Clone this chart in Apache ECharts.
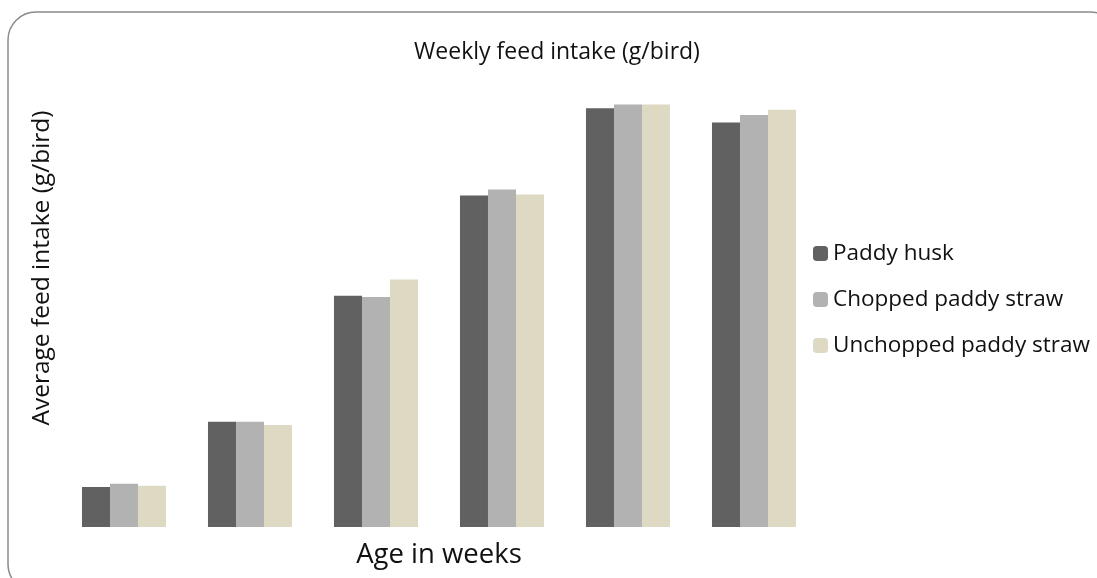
<!DOCTYPE html>
<html>
<head>
<meta charset="utf-8">
<script src="https://cdn.jsdelivr.net/npm/echarts@6/dist/echarts.min.js"></script>
<style>
html,body{margin:0;padding:0;background:#fff;}
#c{width:1097px;height:578px;}
</style>
</head>
<body>
<div id="c"></div>
<script>
var categories = ['1', '2', '3', '4', '5', '6'];
var seriesNames = ['Paddy husk', 'Chopped paddy straw', 'Unchopped paddy straw'];
var paddyHusk = [100, 263, 578, 829, 1047, 1011];
var choppedStraw = [108, 263, 575, 844, 1056, 1030];
var unchoppedStraw = [103, 255, 619, 831, 1056, 1043];
var colors = ['#616161', '#b2b2b2', '#ddd9c3'];

var font = 'Open Sans';
var chart = echarts.init(document.getElementById('c'));
var data = [paddyHusk, choppedStraw, unchoppedStraw];
chart.setOption({
  animation: false,
  backgroundColor: '#fff',
  graphic: [{
    type: 'rect',
    shape: {x: 8, y: 12, width: 1110, height: 580, r: 28},
    style: {fill: 'none', stroke: '#8a8a8a', lineWidth: 1.5},
    silent: true,
    z: -1
  }, {
    type: 'text',
    x: 557, y: 52,
    style: {text: 'Weekly feed intake (g/bird)', fontSize: 23, fontFamily: font, fill: '#111', align: 'center', verticalAlign: 'middle'}
  }, {
    type: 'text',
    x: 42, y: 268,
    rotation: Math.PI / 2,
    style: {text: 'Average feed intake (g/bird)', fontSize: 24.5, fontFamily: font, fill: '#111', align: 'center', verticalAlign: 'middle'}
  }],
  legend: {
    orient: 'vertical',
    left: 808,
    top: 236,
    itemWidth: 15,
    itemHeight: 15,
    itemGap: 21,
    textStyle: {fontFamily: font, fontSize: 22.5, color: '#111', lineHeight: 25},
    data: seriesNames
  },
  grid: {left: 61, right: 280, top: 47, bottom: 51, containLabel: false},
  xAxis: {
    type: 'category',
    data: categories,
    name: 'Age in weeks',
    nameLocation: 'middle',
    nameGap: 14,
    nameTextStyle: {fontFamily: font, fontSize: 27.5, color: '#111'},
    axisLine: {show: false},
    axisTick: {show: false},
    axisLabel: {show: false}
  },
  yAxis: {
    type: 'value',
    min: 0, max: 1200,
    axisLine: {show: false},
    axisTick: {show: false},
    axisLabel: {show: false},
    splitLine: {show: false}
  },
  series: seriesNames.map(function (n, i) {
    return {
      name: n,
      type: 'bar',
      data: data[i],
      barGap: '0%',
      barCategoryGap: '33.3%',
      itemStyle: {color: colors[i]}
    };
  })
});
</script>
</body>
</html>
